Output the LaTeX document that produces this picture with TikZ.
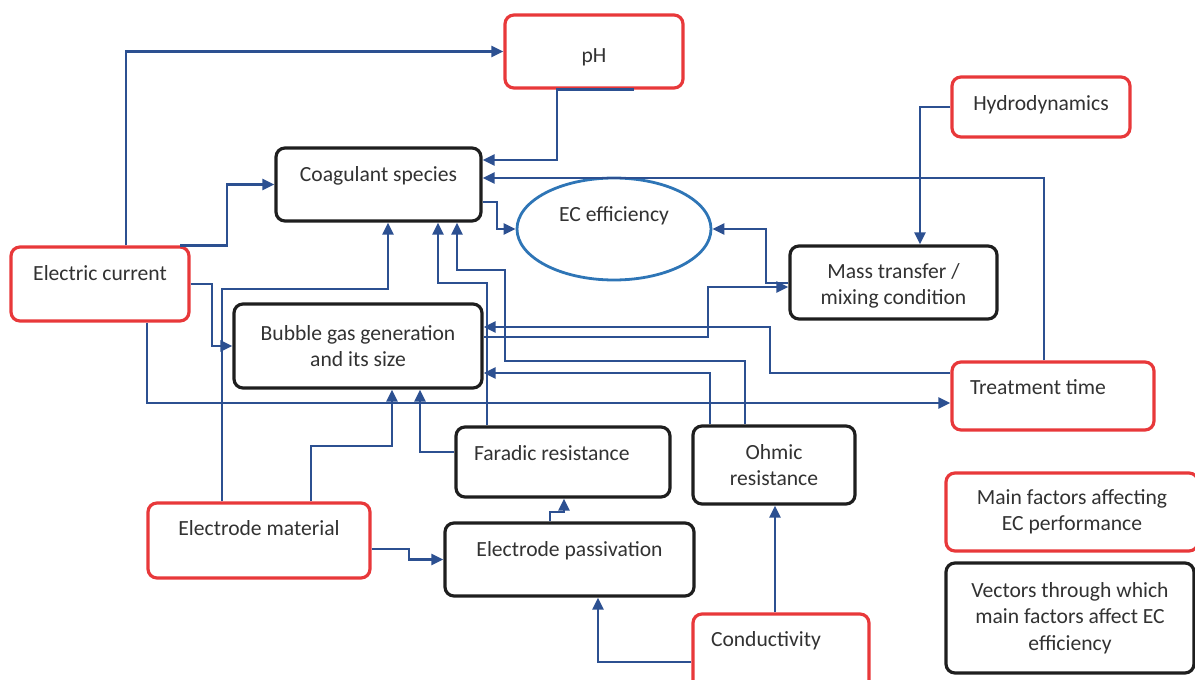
\documentclass[tikz,border=0pt]{standalone}
\usepackage{fontspec}
\setmainfont{Carlito}
\usetikzlibrary{shapes.geometric,arrows.meta}
\definecolor{faktorrot}{RGB}{232,56,58}
\definecolor{vektorschwarz}{RGB}{30,30,30}
\definecolor{pfeilblau}{RGB}{44,80,145}
\definecolor{ellipsenblau}{RGB}{46,117,182}
\definecolor{textgrau}{RGB}{50,50,50}
\tikzset{
	box/.style={rectangle, rounded corners=4.5pt, line width=1.6pt, fill=white,
		text=textgrau, inner sep=1pt, align=center,
		font=\fontsize{10.8}{13.2}\selectfont},
	faktor/.style={box, draw=faktorrot},
	vektor/.style={box, draw=vektorschwarz},
	einzeilig/.style={text height=7pt, text depth=#1},
	linksbuendig/.style={align=flush left, inner xsep=9pt, text width=#1},
	pfeil/.style={draw=pfeilblau, line width=1.2pt,
		-{Triangle[length=6pt,width=5.5pt]}},
}
\begin{document}
\begin{tikzpicture}[x=0.5pt, y=-0.5pt]
	\useasboundingbox (0,0) rectangle (1195,680);
	% Hauptfaktoren
	\node[faktor, minimum width=89pt, minimum height=36.5pt, text height=13pt, text depth=2.2pt] (ph) at (594,51.5) {pH};
	\node[faktor, minimum width=89pt, minimum height=30pt, einzeilig=3.2pt] (hydro) at (1041,107) {Hydrodynamics};
	\node[faktor, minimum width=89pt, minimum height=37pt, einzeilig=10.2pt] (current) at (100,284) {Electric current};
	\node[faktor, minimum width=101pt, minimum height=34pt, einzeilig=8.2pt, linksbuendig=83pt] (treat) at (1053,396) {Treatment time};
	\node[faktor, minimum width=111pt, minimum height=37.5pt, einzeilig=11.7pt] (matl) at (259,540.5) {Electrode material};
	\node[faktor, minimum width=88pt, minimum height=45.5pt, einzeilig=19.7pt, linksbuendig=70pt] (cond) at (781,659.5) {Conductivity};
	% Vektoren
	\node[vektor, minimum width=102.5pt, minimum height=36.5pt, einzeilig=9.7pt] (coag) at (378.5,184.5) {Coagulant species};
	\node[vektor, minimum width=103.5pt, minimum height=36.5pt, text height=24.6pt, text depth=2.6pt] (mass) at (893.5,282.5) {Mass transfer /\\mixing condition};
	\node[vektor, minimum width=124pt, minimum height=42pt] (bubble) at (358,346) {Bubble gas generation\\and its size};
	\node[vektor, minimum width=107pt, minimum height=35pt, einzeilig=8.2pt, linksbuendig=89pt] (faradic) at (563,462) {Faradic resistance};
	\node[vektor, minimum width=81pt, minimum height=39pt] (ohmic) at (774,465) {Ohmic\\resistance};
	\node[vektor, minimum width=124.5pt, minimum height=36.5pt, einzeilig=9.7pt] (passiv) at (569.5,559.5) {Electrode passivation};
	% EC efficiency
	\node[ellipse, draw=ellipsenblau, line width=1.4pt, fill=white, text=textgrau,
		inner sep=1pt, minimum width=97pt, minimum height=51pt,
		font=\fontsize{10.8}{13.2}\selectfont, einzeilig=14.2pt] (eff) at (614,229) {EC efficiency};
	% Legende
	\node[faktor, minimum width=126pt, minimum height=39pt] (mainf) at (1072,512) {Main factors affecting\\EC performance};
	\node[vektor, minimum width=124pt, minimum height=55pt] (vectors) at (1070,618) {Vectors through which\\main factors affect EC\\efficiency};
	% Elektrischer Strom
	\draw[pfeil] (126,0 |- current.north) |- (ph.west);
	\draw[pfeil] (180,0 |- current.north) -- (227,0 |- current.north) |- (coag.west);
	\draw[pfeil] (current.east) -- (212,0 |- current.east) |- (bubble.west);
	\draw[pfeil] (147,0 |- current.south) |- (treat.west |- 0,403);
	% pH, Behandlungszeit, Hydrodynamik
	\draw[pfeil] (634,0 |- ph.south) -- (557,0 |- ph.south) |- (coag.east |- 0,160);
	\draw[pfeil] (1044,0 |- treat.north) |- (coag.east |- 0,178);
	\draw[pfeil] (treat.west |- 0,373) -- (770,373) |- (bubble.east |- 0,327);
	\draw[pfeil] (hydro.west) -- (920,0 |- hydro.west) -- (920,0 |- mass.north);
	% Wirkung auf EC efficiency
	\draw[pfeil] (coag.east |- 0,202) -- (497,202) |- (eff.west);
	\draw[pfeil] (mass.west |- 0,283) -- (766,283) |- (eff.east);
	\draw[pfeil] (bubble.east |- 0,337) -- (708,337) |- (mass.west |- 0,287);
	% Widerstaende
	\draw[pfeil] (710,0 |- ohmic.north) |- (bubble.east |- 0,373);
	\draw[pfeil] (745,0 |- ohmic.north) |- (505,361) |- (457,270) -- (457,0 |- coag.south);
	\draw[pfeil] (487,0 |- faradic.north) |- (438,283) -- (438,0 |- coag.south);
	\draw[pfeil] (faradic.west |- 0,452) -| (420,0 |- bubble.south);
	% Elektrodenmaterial
	\draw[pfeil] (222,0 |- matl.north) |- (388,289) -- (388,0 |- coag.south);
	\draw[pfeil] (311,0 |- matl.north) |- (392,446) -- (392,0 |- bubble.south);
	\draw[pfeil] (matl.east |- 0,549) -- (409,549) |- (passiv.west);
	\draw[pfeil] (550,0 |- passiv.north) |- (564,512) -- (564,0 |- faradic.south);
	% Leitfaehigkeit
	\draw[pfeil] (cond.west |- 0,662) -| (598,0 |- passiv.south);
	\draw[pfeil] (775,0 |- cond.north) -- (775,0 |- ohmic.south);
\end{tikzpicture}
\end{document}
